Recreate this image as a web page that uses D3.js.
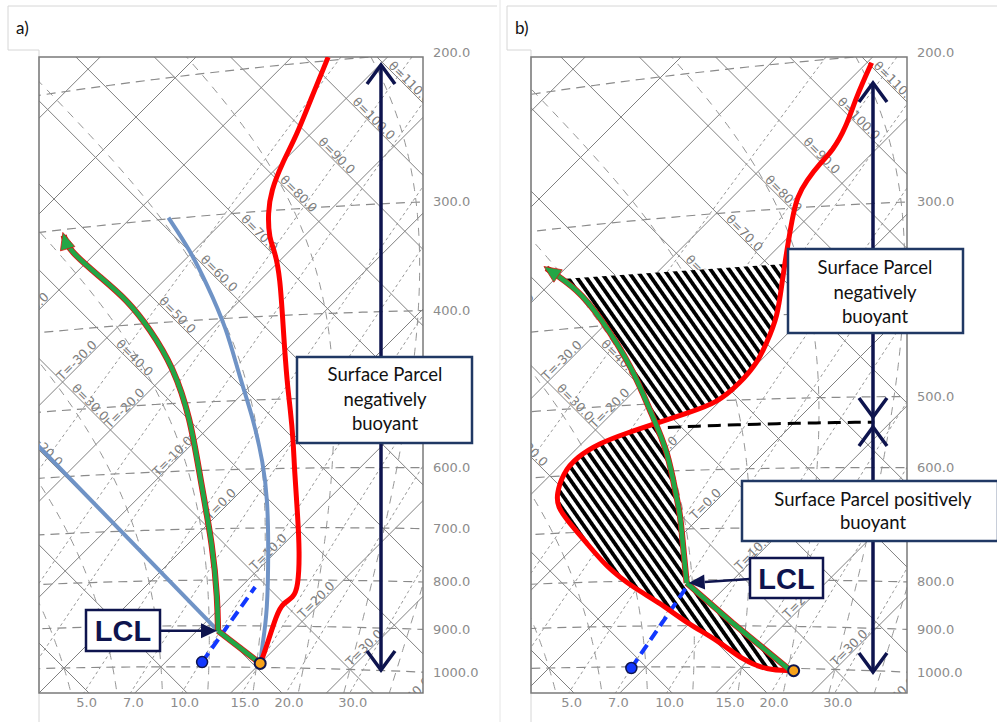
<!DOCTYPE html>
<html>
<head>
<meta charset="utf-8">
<script src="https://cdn.jsdelivr.net/npm/d3@7/dist/d3.min.js"></script>
<style>
html,body{margin:0;padding:0;background:#fff;}
svg{display:block;}
</style>
</head>
<body>
<svg id="chart" width="997" height="722"></svg>
<script>
// ---------------- reference-line values ----------------
const isotherms = d3.range(-100, 61, 10);
const isentropes = d3.range(-50, 231, 10);
const isobars = [1000, 900, 800, 700, 600, 500, 400, 300, 200];
const mixingRatios = [1, 2, 3, 5, 7, 10, 15, 20, 30];
const mixingLabels = [5, 7, 10, 15, 20, 30];
const wetAdiabats = [-20, -15, -10, -5, 0, 5, 10, 15, 20, 25, 30, 35, 40];
const isothermLabels = d3.range(-40, 41, 10);
const isentropeLabels = d3.range(20, 121, 10);

// ---------------- panel a (T in degC, p in hPa) ----------------
const envA_T = [20.0, 19.3, 16.5, 16.1, 16.6, 16.0, 12.6, 8.2, 3.4, 0.1, -3.3, -6.5, -12.1, -18.3, -21.6, -23.4, -26.2, -28.2, -29.9, -31.3, -33.6, -36.2];
const envA_p = [990, 962, 871, 849, 838, 815, 747, 674, 603, 557, 515, 479, 419, 360, 335, 324, 302, 284, 264, 245, 222, 198];
const parcelA_T = [20.0, 12.2, 8.9, 2.9, -5.4, -13.0, -20.0, -26.3, -31.8, -37.1, -43.3, -45.2];
const parcelA_p = [990, 912, 842, 734, 615, 520, 453, 407, 373, 347, 318, 305];
const moistA_T = [20.0, 18.5, 15.5, 8.7, 3.7, -0.6, -6.5, -12.0, -18.6, -25.3, -30.5, -36.1];
const moistA_p = [990, 950, 871, 735, 651, 591, 523, 470, 410, 362, 329, 299];
const dryA_T = [-27.0, 12.2];
const dryA_p = [540, 912];
const dewA_T = [13.8, 11.5];
const dewA_p = [988, 815];

// ---------------- panel b ----------------
const envB_T = [25.5, 23.0, 19.4, 14.6, 9.7, 4.8, 0.3, -4.5, -9.1, -13.6, -15.9, -17.3, -18.9, -19.1, -18.2, -16.4, -14.3, -12.2, -10.1, -9.8, -10.1, -11.2, -12.8, -15.9, -18.8, -21.4, -23.3, -24.0, -24.4, -24.4, -25.4, -27.5, -29.5];
const envB_p = [1006, 1006, 982, 933, 894, 848, 813, 770, 721, 676, 652, 631, 595, 571, 552, 539, 527, 515, 503, 478, 454, 431, 402, 367, 336, 310, 291, 279, 266, 258, 243, 224, 204];
const parcelB_T = [25.5, 14.5, 5.5, 2.5, -2.5, -4.2, -10.4, -15.4, -22.7, -31.3, -36.5, -42.0];
const parcelB_p = [1006, 894, 806, 753, 671, 648, 567, 518, 451, 390, 359, 335];
const dewB_T = [8.6, 5.9];
const dewB_p = [1003, 814];
const hatchTopB = 347;          // hPa, upper limit of shaded area
const lfcLineB_T = [-12.7, 9.2]; // black dashed isobar
const lfcLineB_p = 534;

// ---------------- tephigram projection ----------------
const S = 4.79, A = 285, KAP = 0.2857, Y0 = 668;
function thetaK(T, p) { return (T + 273.15) * Math.pow(1000 / p, KAP); }
function makeProj(x0) {
  const xs = d3.scaleLinear().domain([0, 100]).range([x0, x0 + 100 * S]);
  const ys = d3.scaleLinear().domain([0, 100]).range([Y0, Y0 + 100 * S]);
  const tt = (T, thC) => { const w = A * Math.log((thC + 273.15) / 273.15); return [xs(T + w), ys(T - w)]; };
  const tp = (T, p) => { const w = A * Math.log(thetaK(T, p) / 273.15); return [xs(T + w), ys(T - w)]; };
  const inv = (x, y) => { const u = xs.invert(x), v = ys.invert(y); const T = (u + v) / 2, w = (u - v) / 2;
    const th = 273.15 * Math.exp(w / A); return [T, 1000 * Math.pow((T + 273.15) / th, 1 / KAP)]; };
  return { tt, tp, inv };
}
function satMix(TK, p) { const es = 6.112 * Math.exp(17.67 * (TK - 273.15) / (TK - 29.65)); return 0.622 * es / Math.max(p - es, 1e-3); }
function lapse(TK, p) {
  const rs = satMix(TK, p), Rd = 287.04, cp = 1005.7, L = 2.501e6;
  return (Rd * TK + L * rs) / (cp + L * L * rs * 0.622 / (Rd * TK * TK)) / p;
}
function wetCurve(thw) {
  const dp = 5; const up = [], down = [];
  let T = thw + 273.15, p = 1000; up.push([T, p]);
  while (p > 150) { const k1 = lapse(T, p); const k2 = lapse(T - k1 * dp / 2, p - dp / 2); T -= k2 * dp; p -= dp; up.push([T, p]); }
  T = thw + 273.15; p = 1000;
  while (p < 1100) { const k1 = lapse(T, p); const k2 = lapse(T + k1 * dp / 2, p + dp / 2); T += k2 * dp; p += dp; down.unshift([T, p]); }
  return down.concat(up).map(d => [d[0] - 273.15, d[1]]);
}
function mixCurve(w) {
  return d3.range(1100, 149, -10).map(p => { const e = w * p / (622 + w); const l = Math.log(e / 6.112); return [243.5 * l / (17.67 - l), p]; });
}
const wetData = wetAdiabats.map(wetCurve);
const mixData = mixingRatios.map(mixCurve);

const svg = d3.select('#chart');
const defs = svg.append('defs');
const pat = defs.append('pattern').attr('id', 'hatch').attr('patternUnits', 'userSpaceOnUse')
  .attr('width', 7.6).attr('height', 20).attr('patternTransform', 'rotate(-35)');
pat.append('rect').attr('width', 7.6).attr('height', 20).attr('fill', '#fff');
pat.append('rect').attr('width', 3.8).attr('height', 20).attr('fill', '#000');

const GRID = '#808080', NAVY = '#0e144e', BOXC = '#203864';
const lineGen = d3.line();
const smooth = d3.line().curve(d3.curveBasis);

function zip(Ts, ps) { return Ts.map((t, i) => [t, ps[i]]); }

function chevron(g, x, tip, dir) {
  g.append('path').attr('d', `M${x - 14},${tip + dir * 19}L${x},${tip}L${x + 14},${tip + dir * 19}`)
    .attr('fill', 'none').attr('stroke', NAVY).attr('stroke-width', 3.5).attr('stroke-linejoin', 'miter');
}
function headArrow(g, from, to, col, len, half) {
  const dx = to[0] - from[0], dy = to[1] - from[1], d = Math.hypot(dx, dy);
  const ux = dx / d, uy = dy / d;
  const bx = to[0] - ux * len, by = to[1] - uy * len;
  g.append('line').attr('x1', from[0]).attr('y1', from[1]).attr('x2', bx).attr('y2', by)
    .attr('stroke', col).attr('stroke-width', 2.5);
  g.append('path').attr('d', `M${to[0]},${to[1]}L${bx - uy * half},${by + ux * half}L${bx + uy * half},${by - ux * half}Z`).attr('fill', col);
}
function textBox(g, b) {
  g.append('rect').attr('x', b.x).attr('y', b.y).attr('width', b.w).attr('height', b.h)
    .attr('fill', '#fff').attr('stroke', BOXC).attr('stroke-width', 2.5);
  b.lines.forEach((t, i) => g.append('text').attr('x', b.cx).attr('y', b.ys[i]).attr('text-anchor', 'middle')
    .attr('font-family', 'Lato, "Open Sans", sans-serif').attr('font-size', 18.5).attr('fill', '#111').text(t));
}
function lclBox(g, b) {
  g.append('rect').attr('x', b.x).attr('y', b.y).attr('width', b.w).attr('height', b.h)
    .attr('fill', '#fff').attr('stroke', NAVY).attr('stroke-width', 2.5);
  g.append('text').attr('x', b.x + b.w / 2).attr('y', b.y + b.h / 2 + 10.5).attr('text-anchor', 'middle')
    .attr('font-family', '"Liberation Sans", Arial, sans-serif').attr('font-weight', 'bold').attr('font-size', 29)
    .attr('fill', NAVY).text('LCL');
}
function greenArrowHead(gd, pp) {
  const tip = pp[pp.length - 1], prev = pp[pp.length - 2];
  const dx = tip[0] - prev[0], dy = tip[1] - prev[1], d = Math.hypot(dx, dy), ux = dx / d, uy = dy / d;
  const bx = tip[0] - ux * 14, by = tip[1] - uy * 14;
  gd.append('path').attr('d', `M${tip[0] + ux * 3},${tip[1] + uy * 3}L${bx - uy * 7.5},${by + ux * 7.5}L${bx + uy * 7.5},${by - ux * 7.5}Z`)
    .attr('fill', '#22a646').attr('stroke', '#e01010').attr('stroke-width', 0.8);
}
function drawParcel(gd, dry, wet) {
  [['#e01010', 6.2], ['#22a646', 4.6]].forEach(([c, w]) => {
    gd.append('path').attr('d', lineGen(dry)).attr('fill', 'none').attr('stroke', c).attr('stroke-width', w);
    gd.append('path').attr('d', smooth(wet)).attr('fill', 'none').attr('stroke', c).attr('stroke-width', w);
  });
  greenArrowHead(gd, wet);
}

function drawPanel(cfg) {
  const P = makeProj(cfg.x0);
  const g = svg.append('g');
  g.append('path').attr('d', `M${cfg.ox},50V6H${cfg.ox2}M${cfg.ox},50H${cfg.l}V722`).attr('fill', 'none')
    .attr('stroke', '#d6d6d6').attr('stroke-width', 1);
  g.append('text').attr('x', cfg.ox + 8).attr('y', 34).attr('font-family', 'Lato, sans-serif').attr('font-size', 17)
    .attr('fill', '#111').text(cfg.label);

  defs.append('clipPath').attr('id', 'clip' + cfg.id).append('rect')
    .attr('x', cfg.l).attr('y', cfg.t).attr('width', cfg.r - cfg.l).attr('height', cfg.b - cfg.t);
  const gc = g.append('g').attr('clip-path', `url(#clip${cfg.id})`);

  gc.selectAll('.iso').data(isotherms).join('path')
    .attr('d', T => lineGen([P.tt(T, -150), P.tt(T, 320)]))
    .attr('fill', 'none').attr('stroke', GRID).attr('stroke-width', 1);
  gc.selectAll('.ise').data(isentropes).join('path')
    .attr('d', th => lineGen([P.tt(-160, th), P.tt(120, th)]))
    .attr('fill', 'none').attr('stroke', GRID).attr('stroke-width', 1);
  gc.selectAll('.bar').data(isobars).join('path')
    .attr('d', p => lineGen(d3.range(-130, 61, 2).map(T => P.tp(T, p))))
    .attr('fill', 'none').attr('stroke', '#8a8a8a').attr('stroke-width', 1.2).attr('stroke-dasharray', '9,6');
  gc.selectAll('.mix').data(mixData).join('path')
    .attr('d', d => lineGen(d.map(q => P.tp(q[0], q[1]))))
    .attr('fill', 'none').attr('stroke', '#959595').attr('stroke-width', 1).attr('stroke-dasharray', '3,3');
  gc.selectAll('.wet').data(wetData).join('path')
    .attr('d', d => lineGen(d.map(q => P.tp(q[0], q[1]))))
    .attr('fill', 'none').attr('stroke', '#959595').attr('stroke-width', 1).attr('stroke-dasharray', '8,7');

  gc.selectAll('.thl').data(isentropeLabels).join('text')
    .attr('transform', th => { const q = P.tt(-25, th); return `translate(${q[0]},${q[1]}) rotate(45)`; })
    .attr('text-anchor', 'middle').attr('dy', -1)
    .attr('font-family', '"DejaVu Sans", sans-serif').attr('font-size', 12.5).attr('fill', '#7d7d7d')
    .text(th => '\u03b8=' + th.toFixed(1));
  gc.selectAll('.tl').data(isothermLabels).join('text')
    .attr('transform', T => { const q = P.tt(T, 34); return `translate(${q[0]},${q[1]}) rotate(-45)`; })
    .attr('text-anchor', 'middle').attr('dy', -1)
    .attr('font-family', '"DejaVu Sans", sans-serif').attr('font-size', 12.5).attr('fill', '#7d7d7d')
    .text(T => 'T=' + T.toFixed(1));

  g.append('rect').attr('x', cfg.l).attr('y', cfg.t).attr('width', cfg.r - cfg.l).attr('height', cfg.b - cfg.t)
    .attr('fill', 'none').attr('stroke', '#7a7a7a').attr('stroke-width', 1.5);

  isobars.forEach(p => {
    let lo = -150, hi = 100;
    for (let i = 0; i < 60; i++) { const m = (lo + hi) / 2; if (P.tp(m, p)[0] < cfg.r) lo = m; else hi = m; }
    const q = P.tp(lo, p);
    g.append('text').attr('x', cfg.r + 10).attr('y', q[1] + 4.5).attr('font-family', '"DejaVu Sans", sans-serif')
      .attr('font-size', 13).attr('fill', '#8c8c8c').text(p.toFixed(1));
  });
  mixingLabels.forEach(w => {
    const e = p => { const ee = w * p / (622 + w); const l = Math.log(ee / 6.112); return 243.5 * l / (17.67 - l); };
    let lo = 150, hi = 1200;
    for (let i = 0; i < 60; i++) { const m = (lo + hi) / 2; if (P.tp(e(m), m)[1] < cfg.b) lo = m; else hi = m; }
    const q = P.tp(e(lo), lo);
    g.append('text').attr('x', q[0] + 3).attr('y', cfg.b + 14).attr('text-anchor', 'middle')
      .attr('font-family', '"DejaVu Sans", sans-serif').attr('font-size', 13).attr('fill', '#8c8c8c').text(w.toFixed(1));
  });
  return { P, g, gc };
}

// ---------------- panel a ----------------
const pa = drawPanel({ id: 'a', label: 'a)', x0: 64, l: 39, r: 423, t: 57, b: 693, ox: 8, ox2: 497 });
{
  const P = pa.P, g = pa.g;
  const gd = g.append('g').attr('clip-path', 'url(#clipa)');
  gd.append('path').attr('d', lineGen(zip(dryA_T, dryA_p).map(d => P.tp(d[0], d[1]))))
    .attr('fill', 'none').attr('stroke', '#6f93c6').attr('stroke-width', 4);
  gd.append('path').attr('d', smooth(zip(moistA_T, moistA_p).map(d => P.tp(d[0], d[1]))))
    .attr('fill', 'none').attr('stroke', '#6f93c6').attr('stroke-width', 4);
  gd.append('path').attr('d', lineGen(zip(dewA_T, dewA_p).map(d => P.tp(d[0], d[1]))))
    .attr('fill', 'none').attr('stroke', '#1238ff').attr('stroke-width', 4).attr('stroke-dasharray', '11,6');
  gd.append('path').attr('d', smooth(zip(envA_T, envA_p).map(d => P.tp(d[0], d[1]))))
    .attr('fill', 'none').attr('stroke', '#ff0000').attr('stroke-width', 5);
  const par = zip(parcelA_T, parcelA_p).map(d => P.tp(d[0], d[1]));
  drawParcel(gd, par.slice(0, 2), par.slice(1));
  const dew = P.tp(dewA_T[0], dewA_p[0]);
  g.append('circle').attr('cx', dew[0]).attr('cy', dew[1]).attr('r', 5.5).attr('fill', '#1238ff').attr('stroke', NAVY).attr('stroke-width', 1.5);
  const sfc = P.tp(envA_T[0], envA_p[0]);
  g.append('circle').attr('cx', sfc[0]).attr('cy', sfc[1]).attr('r', 5.5).attr('fill', '#f7a21b').attr('stroke', NAVY).attr('stroke-width', 2);

  g.append('line').attr('x1', 381).attr('x2', 381).attr('y1', 66).attr('y2', 669).attr('stroke', NAVY).attr('stroke-width', 3.5);
  chevron(g, 381, 65, 1); chevron(g, 381, 670, -1);
  textBox(g, { x: 297, y: 357, w: 175, h: 86, cx: 385, lines: ['Surface Parcel', 'negatively', 'buoyant'], ys: [381, 406, 430] });
  const lcl = P.tp(parcelA_T[1], parcelA_p[1]);
  lclBox(g, { x: 86, y: 610, w: 74, h: 41 });
  headArrow(g, [160, lcl[1]], [lcl[0] - 1, lcl[1]], NAVY, 16, 7.5);
}

// ---------------- panel b ----------------
const pb = drawPanel({ id: 'b', label: 'b)', x0: 549, l: 531, r: 907, t: 57, b: 693, ox: 507, ox2: 997 });
{
  const P = pb.P, g = pb.g;
  const gd = g.append('g').attr('clip-path', 'url(#clipb)');
  const env = zip(envB_T, envB_p), par = zip(parcelB_T, parcelB_p);
  const pp = par.map(d => P.tp(d[0], d[1]));
  const ep = env.map(d => P.tp(d[0], d[1]));
  const dry = pp.slice(0, 3), wet = pp.slice(2);

  function sample(d) {
    const el = svg.append('path').attr('d', d).node();
    const L = el.getTotalLength(), out = [];
    for (let i = 0; i <= 300; i++) { const q = el.getPointAtLength(L * i / 300); out.push([q.x, q.y]); }
    el.remove(); return out;
  }
  function cutTop(pts, pTop) {
    const out = [];
    for (let i = 0; i < pts.length; i++) { if (P.inv(pts[i][0], pts[i][1])[1] >= pTop) out.push(pts[i]); else break; }
    return out;
  }
  const gS = cutTop(sample(lineGen(dry)).concat(sample(smooth(wet))), hatchTopB);
  const eS = cutTop(sample(smooth(ep)), hatchTopB);
  const poly = gS.concat(eS.reverse());
  gd.append('path').attr('d', lineGen(poly) + 'Z').attr('fill', 'url(#hatch)').attr('fill-rule', 'nonzero');

  gd.append('path').attr('d', lineGen(zip(dewB_T, dewB_p).map(d => P.tp(d[0], d[1]))))
    .attr('fill', 'none').attr('stroke', '#1238ff').attr('stroke-width', 4).attr('stroke-dasharray', '11,6');
  gd.append('path').attr('d', smooth(ep)).attr('fill', 'none').attr('stroke', '#ff0000').attr('stroke-width', 5);
  drawParcel(gd, dry, wet);
  gd.append('path').attr('d', lineGen(d3.range(lfcLineB_T[0], lfcLineB_T[1] + 0.01, 1).map(T => P.tp(T, lfcLineB_p))))
    .attr('fill', 'none').attr('stroke', '#000').attr('stroke-width', 3).attr('stroke-dasharray', '13,7');

  const dew = P.tp(dewB_T[0], dewB_p[0]);
  g.append('circle').attr('cx', dew[0]).attr('cy', dew[1]).attr('r', 5.5).attr('fill', '#1238ff').attr('stroke', NAVY).attr('stroke-width', 1.5);
  const sfc = P.tp(envB_T[0], envB_p[0]);
  g.append('circle').attr('cx', sfc[0] + 3).attr('cy', sfc[1]).attr('r', 5.5).attr('fill', '#f7a21b').attr('stroke', NAVY).attr('stroke-width', 2);

  g.append('line').attr('x1', 873).attr('x2', 873).attr('y1', 84).attr('y2', 671).attr('stroke', NAVY).attr('stroke-width', 3.5);
  chevron(g, 873, 83, 1); chevron(g, 873, 417, -1); chevron(g, 873, 427, 1); chevron(g, 873, 672, -1);
  textBox(g, { x: 788, y: 249, w: 175, h: 84, cx: 875, lines: ['Surface Parcel', 'negatively', 'buoyant'], ys: [274, 299, 323] });
  textBox(g, { x: 742, y: 481, w: 256, h: 60, cx: 873, lines: ['Surface Parcel positively', 'buoyant'], ys: [506, 529] });
  const lcl = P.tp(parcelB_T[2], parcelB_p[2]);
  lclBox(g, { x: 750, y: 558, w: 73, h: 40 });
  headArrow(g, [750, 579], [lcl[0] + 2, lcl[1]], NAVY, 16, 7.5);
}
svg.append('line').attr('x1', 500).attr('x2', 500).attr('y1', 0).attr('y2', 722).attr('stroke', '#e6e6e6').attr('stroke-width', 1);
</script>
</body>
</html>
